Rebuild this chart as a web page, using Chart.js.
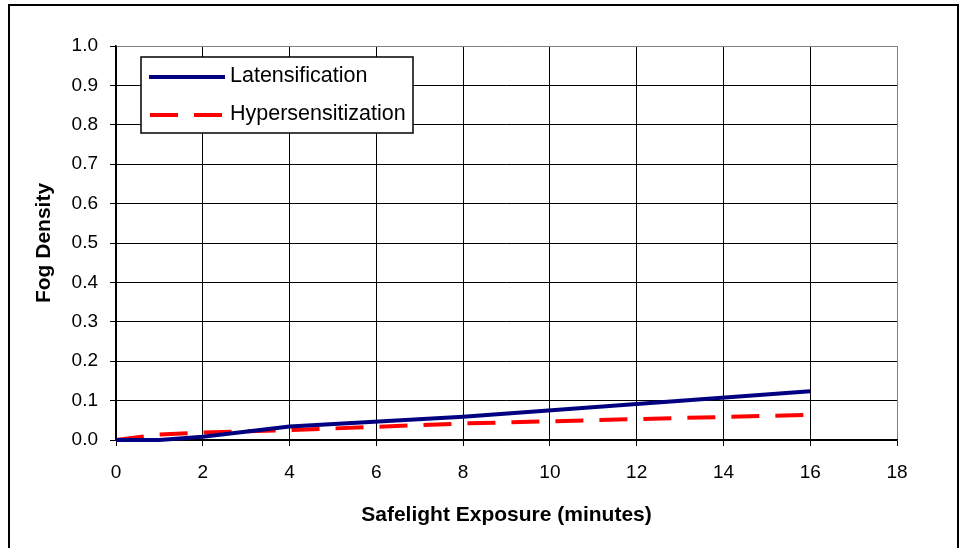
<!DOCTYPE html>
<html>
<head>
<meta charset="utf-8">
<script src="https://cdn.jsdelivr.net/npm/chart.js@4"></script>
<style>
  body { margin: 0; background: #fff; }
  canvas { display: block; }
</style>
</head>
<body>
<canvas id="fog-chart" width="962" height="548"></canvas>
<script>
// exposure (minutes) and fog density
const latMinutes = [0, 1, 2, 4, 8, 16];
const latDensity = [0, 0, 0.008, 0.034, 0.059, 0.124];
const hypMinutes = [0, 1, 2, 4, 8, 16];
const hypDensity = [0, 0.014, 0.019, 0.025, 0.042, 0.064];
const seriesNames = ["Latensification", "Hypersensitization"];

const FONT = "'Liberation Sans', Arial, sans-serif";

function toPoints(xs, ys) {
  return xs.map((x, i) => ({ x: x, y: ys[i] }));
}

// outer frame + boxed legend in the upper left of the plot
const framePlugin = {
  id: "frame",
  beforeDraw(chart) {
    const c = chart.ctx;
    c.save();
    c.fillStyle = "#fff";
    c.fillRect(0, 0, chart.width, chart.height);
    c.strokeStyle = "#000";
    c.lineWidth = 2;
    c.strokeRect(9, 5, 949, 600);
    c.restore();
  },
  afterDatasetsDraw(chart) {
    const c = chart.ctx;
    const area = chart.chartArea;
    const bx = area.left + 25;
    const by = area.top + 11;
    c.save();
    c.fillStyle = "#fff";
    c.fillRect(bx, by, 272, 76);
    c.strokeStyle = "#000";
    c.lineWidth = 1.5;
    c.strokeRect(bx, by, 272, 76);

    c.lineWidth = 4;
    c.lineCap = "butt";
    c.strokeStyle = "#000080";
    c.beginPath();
    c.moveTo(bx + 8, by + 20);
    c.lineTo(bx + 84, by + 20);
    c.stroke();

    c.strokeStyle = "#ff0000";
    c.setLineDash([28, 16]);
    c.beginPath();
    c.moveTo(bx + 9, by + 58);
    c.lineTo(bx + 81, by + 58);
    c.stroke();
    c.setLineDash([]);

    c.fillStyle = "#000";
    c.font = "21.5px " + FONT;
    c.textBaseline = "middle";
    c.fillText(seriesNames[0], bx + 89, by + 19);
    c.fillText(seriesNames[1], bx + 89, by + 57);
    c.restore();
  }
};

const chartData = {
  datasets: [
    {
      label: seriesNames[0],
      data: toPoints(latMinutes, latDensity),
      borderColor: "#000080",
      borderWidth: 4,
      pointRadius: 0,
      tension: 0,
      clip: false,
    },
    {
      label: seriesNames[1],
      data: toPoints(hypMinutes, hypDensity),
      borderColor: "#ff0000",
      borderWidth: 4,
      borderDash: [28, 16],
      pointRadius: 0,
      tension: 0,
      clip: false,
    },
  ],
};

const config = {
  type: "line",
  data: chartData,
  plugins: [framePlugin],
  options: {
    responsive: false,
    animation: false,
    layout: { padding: { left: 0, top: 46, right: 65, bottom: 0 } },
    plugins: {
      legend: { display: false },
      tooltip: { enabled: false },
    },
    scales: {
      x: {
        type: "linear",
        min: 0,
        max: 18,
        afterFit(scale) { scale.height = 108; },
        ticks: {
          stepSize: 2,
          color: "#000",
          padding: 15,
          font: { family: FONT, size: 19 },
        },
        grid: {
          color: (ctx) => (ctx.tick && ctx.tick.value === 18 ? "#808080" : "#000"),
          tickColor: "#000",
          tickLength: 6,
          lineWidth: 1,
        },
        border: { color: "#000", width: 1.5 },
        title: {
          display: true,
          text: "Safelight Exposure (minutes)",
          color: "#000",
          font: { family: FONT, size: 21, weight: "bold" },
          padding: { top: 0, bottom: 20 },
        },
      },
      y: {
        min: 0,
        max: 1,
        afterFit(scale) { scale.width = 116; },
        ticks: {
          stepSize: 0.1,
          color: "#000",
          padding: 12,
          font: { family: FONT, size: 19 },
          callback: (v) => Number(v).toFixed(1),
        },
        grid: {
          color: (ctx) => (ctx.tick && ctx.tick.value === 1 ? "#808080" : "#000"),
          tickColor: "#000",
          tickLength: 6,
          lineWidth: 1,
        },
        border: { color: "#000", width: 1.5 },
        title: {
          display: true,
          text: "Fog Density",
          color: "#000",
          font: { family: FONT, size: 21, weight: "bold" },
          padding: { top: 32, bottom: 0 },
        },
      },
    },
  },
};

const ctx = document.getElementById("fog-chart").getContext("2d");
const fogChart = new Chart(ctx, config);
</script>
</body>
</html>
